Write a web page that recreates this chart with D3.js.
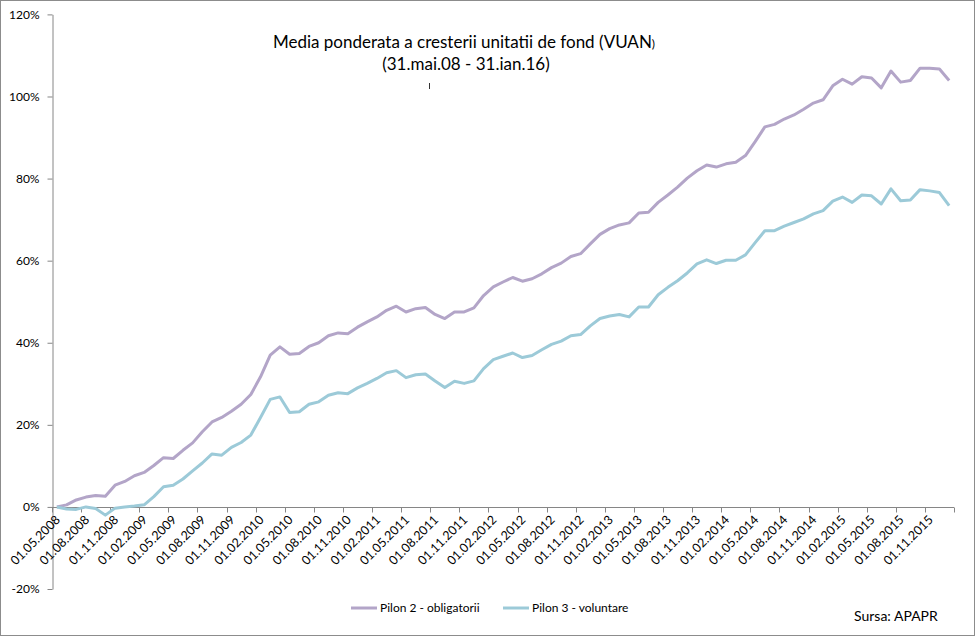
<!DOCTYPE html>
<html><head><meta charset="utf-8">
<script src="https://cdn.jsdelivr.net/npm/d3@7"></script>
<style>
body{margin:0;background:#fff;}
text{font-family:Lato,"Open Sans",sans-serif;}
</style></head>
<body><svg id="c" width="976" height="637"></svg>
<script>
const categories = [
"01.05.2008","01.06.2008","01.07.2008","01.08.2008","01.09.2008","01.10.2008","01.11.2008","01.12.2008",
"01.01.2009","01.02.2009","01.03.2009","01.04.2009","01.05.2009","01.06.2009","01.07.2009","01.08.2009","01.09.2009","01.10.2009","01.11.2009","01.12.2009",
"01.01.2010","01.02.2010","01.03.2010","01.04.2010","01.05.2010","01.06.2010","01.07.2010","01.08.2010","01.09.2010","01.10.2010","01.11.2010","01.12.2010",
"01.01.2011","01.02.2011","01.03.2011","01.04.2011","01.05.2011","01.06.2011","01.07.2011","01.08.2011","01.09.2011","01.10.2011","01.11.2011","01.12.2011",
"01.01.2012","01.02.2012","01.03.2012","01.04.2012","01.05.2012","01.06.2012","01.07.2012","01.08.2012","01.09.2012","01.10.2012","01.11.2012","01.12.2012",
"01.01.2013","01.02.2013","01.03.2013","01.04.2013","01.05.2013","01.06.2013","01.07.2013","01.08.2013","01.09.2013","01.10.2013","01.11.2013","01.12.2013",
"01.01.2014","01.02.2014","01.03.2014","01.04.2014","01.05.2014","01.06.2014","01.07.2014","01.08.2014","01.09.2014","01.10.2014","01.11.2014","01.12.2014",
"01.01.2015","01.02.2015","01.03.2015","01.04.2015","01.05.2015","01.06.2015","01.07.2015","01.08.2015","01.09.2015","01.10.2015","01.11.2015","01.12.2015",
"01.01.2016"];

const pilon2 = [0,0.5,1.7,2.4,2.8,2.6,5.3,6.2,7.6,8.4,10.1,12.0,11.8,13.8,15.6,18.3,20.7,21.8,23.3,25.0,
27.4,31.7,37.0,39.0,37.2,37.4,39.1,40.0,41.7,42.4,42.2,43.8,45.1,46.3,47.9,48.9,47.5,48.3,48.6,46.9,
45.9,47.5,47.5,48.5,51.5,53.6,54.8,55.9,55.0,55.6,56.8,58.3,59.4,61.0,61.7,64.1,66.4,67.8,68.7,69.2,
71.6,71.8,74.2,76.0,77.9,80.1,81.9,83.3,82.8,83.6,84.0,85.6,89.0,92.6,93.2,94.5,95.5,96.9,98.4,99.2,
102.6,104.2,103.0,104.8,104.5,102.1,106.2,103.5,103.9,106.9,106.9,106.7,103.9];

const pilon3 = [0,-0.5,-0.6,0,-0.4,-2.0,-0.3,0,0.2,0.5,2.5,4.9,5.3,6.8,8.8,10.7,12.9,12.6,14.5,15.7,
17.5,21.8,26.2,26.8,23.0,23.2,25.0,25.6,27.2,27.8,27.6,29.0,30.1,31.3,32.7,33.2,31.5,32.2,32.4,30.7,
29.1,30.6,30.1,30.7,33.7,35.9,36.7,37.5,36.4,36.9,38.3,39.6,40.4,41.7,42.0,44.1,45.9,46.5,46.9,46.3,
48.7,48.7,51.7,53.5,55.1,57.0,59.2,60.2,59.3,60.1,60.1,61.4,64.4,67.3,67.3,68.4,69.3,70.2,71.4,72.2,
74.5,75.5,74.2,76.0,75.8,73.8,77.5,74.6,74.8,77.3,77.0,76.6,73.4];

const tickLabels = ["01.05.2008","01.08.2008","01.11.2008","01.02.2009","01.05.2009","01.08.2009","01.11.2009",
"01.02.2010","01.05.2010","01.08.2010","01.11.2010","01.02.2011","01.05.2011","01.08.2011","01.11.2011",
"01.02.2012","01.05.2012","01.08.2012","01.11.2012","01.02.2013","01.05.2013","01.08.2013","01.11.2013",
"01.02.2014","01.05.2014","01.08.2014","01.11.2014","01.02.2015","01.05.2015","01.08.2015","01.11.2015"];

const yTicks = [-20,0,20,40,60,80,100,120];
const seriesNames = ["Pilon 2 - obligatorii","Pilon 3 - voluntare"];
const colors = ["#b3a5c8","#9ccad8"];
const titleLines = ["Media ponderata a cresterii unitatii de fond (VUAN", "(31.mai.08 - 31.ian.16)"];

const svg = d3.select("#c");
svg.append("rect").attr("x",0.5).attr("y",0.5).attr("width",974).attr("height",635)
  .attr("fill","#fff").attr("stroke","#8c8c8c").attr("stroke-width",1);

const x = d3.scaleBand().domain(categories).range([52,954]).padding(0);
const y = d3.scaleLinear().domain([-20,120]).range([589,14.4]);
const cx = d => x(d) + x.bandwidth()/2;

// y axis
const ya = svg.append("g").attr("transform","translate(52.5,0)")
  .call(d3.axisLeft(y).tickValues(yTicks).tickSize(5).tickSizeOuter(0).tickPadding(8).tickFormat(d=>d+"%"));
ya.select(".domain").attr("stroke","#868686");
ya.selectAll(".tick line").attr("stroke","#868686");
ya.selectAll("text").attr("font-size",12).attr("fill","#000").attr("font-family","Lato");

// x axis
const y0 = Math.round(y(0))+0.5;
const xa = svg.append("g").attr("transform",`translate(0,${y0})`);
xa.append("line").attr("x1",x.range()[0]).attr("x2",x.range()[1]).attr("stroke","#868686");
const tickIdx = categories.map((c,i)=>i).filter(i=>i%3===0);
xa.selectAll("line.tk").data(tickIdx.concat([categories.length])).join("line").attr("class","tk")
  .attr("x1",i=> Math.round(i<categories.length? x(categories[i]) : x.range()[1])+0.5)
  .attr("x2",i=> Math.round(i<categories.length? x(categories[i]) : x.range()[1])+0.5)
  .attr("y1",0).attr("y2",5).attr("stroke","#868686");
xa.selectAll("text.lb").data(tickLabels).join("text").attr("class","lb")
  .attr("transform",d=>`translate(${cx(d)+1},${10}) rotate(-45)`)
  .attr("text-anchor","end").attr("dy","0.35em")
  .attr("font-size",12.5).attr("fill","#000").text(d=>d);

// lines
const line = d3.line().x((d,i)=>cx(categories[i])).y(d=>y(d));
[pilon2,pilon3].forEach((s,k)=>{
  svg.append("path").datum(s).attr("d",line).attr("fill","none")
    .attr("stroke",colors[k]).attr("stroke-width",3).attr("stroke-linejoin","round");
});

// title
const t1 = svg.append("text").attr("x",464).attr("y",48).attr("text-anchor","middle")
  .attr("font-size",17).attr("fill","#000");
t1.append("tspan").text(titleLines[0]);
t1.append("tspan").attr("font-size",12).text(")");
svg.append("text").attr("x",466).attr("y",70).attr("text-anchor","middle")
  .attr("font-size",17).attr("fill","#000").text(titleLines[1]);
svg.append("line").attr("x1",429.5).attr("x2",429.5).attr("y1",83).attr("y2",89).attr("stroke","#333");

// legend
const legX = [351,503];
seriesNames.forEach((n,k)=>{
  svg.append("line").attr("x1",legX[k]).attr("x2",legX[k]+26).attr("y1",608).attr("y2",608)
    .attr("stroke",colors[k]).attr("stroke-width",3);
  svg.append("text").attr("x",legX[k]+29).attr("y",612).attr("font-size",12).attr("fill","#000").text(n);
});

svg.append("text").attr("x",854).attr("y",621).attr("font-size",14).attr("fill","#000").text("Sursa: APAPR");
</script></body></html>
